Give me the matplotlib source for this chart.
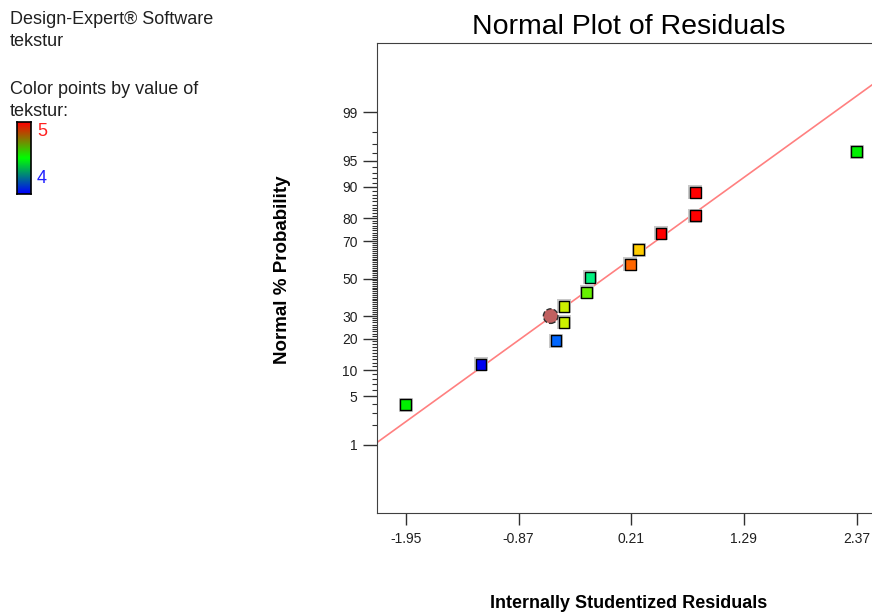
import math
from statistics import NormalDist
import numpy as np
import matplotlib
matplotlib.use('Agg')
import matplotlib.pyplot as plt
from matplotlib.colors import LinearSegmentedColormap

plt.rcParams['font.family'] = ['Liberation Sans', 'DejaVu Sans']

# residuals (x) and normal % probability (y)
resid = [-1.953, -1.231, -0.512, -0.435, -0.435, -0.218, -0.186,
         0.200, 0.281, 0.495, 0.824, 0.824, 2.371]
prob = [3.9, 11.5, 19.2, 27.1, 34.9, 42.4, 50.7,
        57.9, 65.7, 73.7, 81.1, 88.6, 96.2]
pt_colors = ['#00f000', '#0000f0', '#0066ff', '#ccf000', '#ccf000', '#66f000', '#00f080',
             '#ff6600', '#ffcc00', '#ff0000', '#ff0000', '#ff0000', '#00f000']

# the round marker
circ_resid = [-0.563]
circ_prob = [30.0]

# fitted normal line
fit_mean = -0.053
fit_sd = 0.949

x_ticks = [-1.95, -0.87, 0.21, 1.29, 2.37]
y_major = [1, 5, 10, 20, 30, 50, 70, 80, 90, 95, 99]
y_minor = [p for p in range(1, 100) if p not in y_major]

nd = NormalDist()
_ppf = np.vectorize(lambda p: nd.inv_cdf(min(max(p / 100.0, 1e-9), 1 - 1e-9)))
_cdf = np.vectorize(lambda z: 100.0 * 0.5 * (1 + math.erf(z / math.sqrt(2))))


def forward(p):
    return _ppf(np.asarray(p, dtype=float))


def inverse(z):
    return _cdf(np.asarray(z, dtype=float))


fig = plt.figure(figsize=(8.72, 6.12), dpi=100)
ax = fig.add_axes([377 / 872, 99 / 612, 495 / 872, 470 / 612])
ax.set_yscale('function', functions=(forward, inverse))
ax.set_xlim(-2.228, 2.518)
ax.set_ylim(0.0523, 99.9508)

# fit line
lx = np.array(ax.get_xlim())
ly = inverse((lx - fit_mean) / fit_sd)
ax.plot(lx, ly, color='#ff8080', lw=1.2, zorder=2)

# points: light gray halo, then coloured squares
ax.scatter(resid, prob, marker='s', s=88, color='#c8c8c8', lw=0, zorder=3)
ax.scatter(resid, prob, marker='s', s=62, c=pt_colors, edgecolors='black', linewidths=1.0, zorder=4)
ax.scatter(circ_resid, circ_prob, marker='o', s=110, color='#c06060', edgecolors='#303030',
           linewidths=1.0, linestyles='--', zorder=4)

ax.set_xticks(x_ticks)
ax.set_xticklabels(['%.2f' % v for v in x_ticks])
ax.set_yticks(y_major)
ax.set_yticklabels([str(v) for v in y_major])
ax.set_yticks(y_minor, minor=True)
ax.tick_params(axis='x', length=8.5, width=1, color='#303030', labelsize=10, pad=5, labelcolor='#202020')
ax.tick_params(axis='y', which='major', length=10, width=1, color='#303030', labelsize=10, pad=4,
               labelcolor='#202020')
ax.tick_params(axis='y', which='minor', length=3.6, width=0.8, color='#303030')
ax.spines['right'].set_visible(False)
for s in ['left', 'top', 'bottom']:
    ax.spines[s].set_color('#404040')

fig.text(629 / 872, 1 - 27 / 612, 'Normal Plot of Residuals', ha='center', va='center', fontsize=20.5)
fig.text(629 / 872, 1 - 604 / 612, 'Internally Studentized Residuals', ha='center', va='center',
         fontsize=13, fontweight='bold')
fig.text(282 / 872, 1 - 270 / 612, 'Normal % Probability', ha='center', va='center',
         fontsize=13.5, fontweight='bold', rotation=90)

# legend text, top left
fig.text(10 / 872, 1 - 20 / 612, 'Design-Expert® Software', ha='left', va='center', fontsize=13, color='#202020')
fig.text(10 / 872, 1 - 42 / 612, 'tekstur', ha='left', va='center', fontsize=13, color='#202020')
fig.text(10 / 872, 1 - 90 / 612, 'Color points by value of', ha='left', va='center', fontsize=13, color='#202020')
fig.text(10 / 872, 1 - 111 / 612, 'tekstur:', ha='left', va='center', fontsize=13, color='#202020')

cmap = LinearSegmentedColormap.from_list('dx', ['#0000ff', '#00ff00', '#ff0000'])
cax = fig.add_axes([17 / 872, 1 - 194 / 612, 14 / 872, 72 / 612])
cax.imshow(np.linspace(1, 0, 100).reshape(-1, 1), aspect='auto', cmap=cmap)
cax.set_xticks([])
cax.set_yticks([])
for s in cax.spines.values():
    s.set_color('black')
    s.set_linewidth(1.2)
fig.text(37 / 872, 1 - 131 / 612, '5', ha='left', va='center', fontsize=13, color='#ff2020')
fig.text(37 / 872, 1 - 178 / 612, '4', ha='left', va='center', fontsize=13, color='#2020ff')

fig.savefig('out.png', dpi=100)
